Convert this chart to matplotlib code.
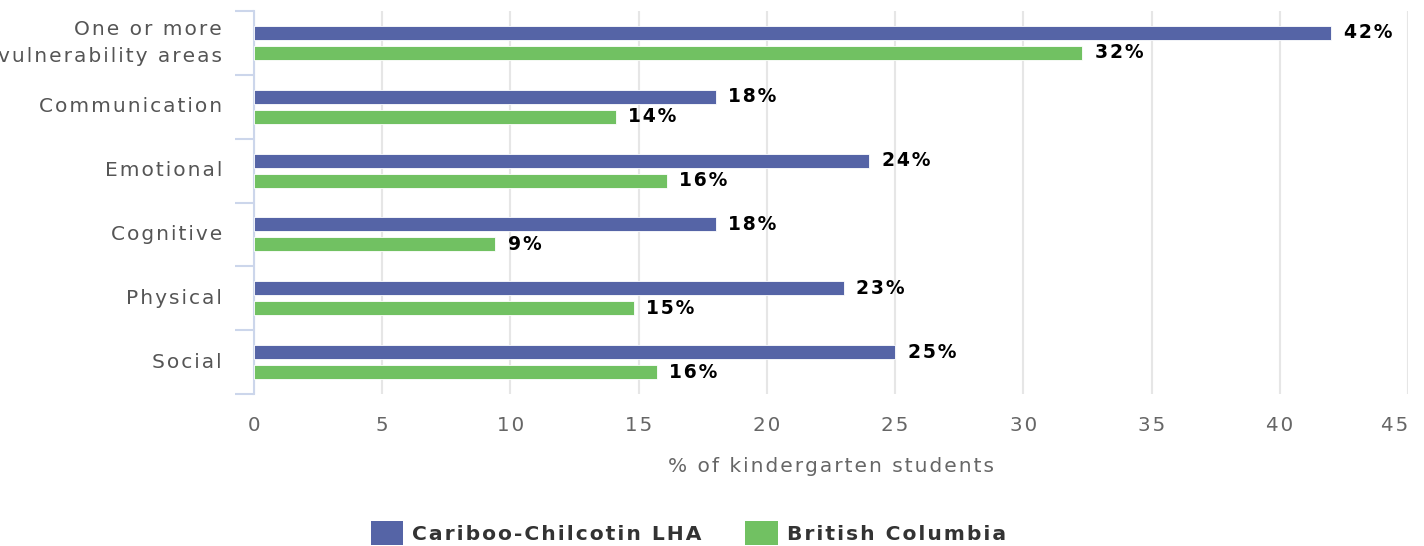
import matplotlib
matplotlib.use("Agg")
import matplotlib.pyplot as plt
import numpy as np
from matplotlib.patches import Patch

# ---- data ----
categories = ["One or more\nvulnerability areas", "Communication", "Emotional",
              "Cognitive", "Physical", "Social"]
cariboo = [42.0, 18.0, 24.0, 18.0, 23.0, 25.0]
british_columbia = [32.3, 14.1, 16.1, 9.4, 14.8, 15.7]
series_names = ["Cariboo-Chilcotin LHA", "British Columbia"]
x_ticks = [0, 5, 10, 15, 20, 25, 30, 35, 40, 45]
x_label = "% of kindergarten students"

BLUE = "#5564A6"
GREEN = "#71C162"
HS = "\u200a"  # hair space to mimic letter spacing


def spaced(s):
    return "\n".join(HS.join(line) for line in s.split("\n"))


plt.rcParams["font.family"] = ["DejaVu Sans"]

fig = plt.figure(figsize=(14.24, 5.46), dpi=100)
ax = fig.add_axes([0.17837, 0.27839, 0.81039, 0.70146])

y = np.arange(len(categories))
h = 0.22
off = 0.157
b1 = ax.barh(y - off, cariboo, height=h, color=BLUE, edgecolor="white", linewidth=0.6, zorder=3)
b2 = ax.barh(y + off, british_columbia, height=h, color=GREEN, edgecolor="white", linewidth=0.6, zorder=3)

ax.bar_label(b1, labels=[spaced(f"{round(v)}%") for v in cariboo], padding=9,
             fontsize=13.5, fontweight="bold", color="black")
ax.bar_label(b2, labels=[spaced(f"{round(v)}%") for v in british_columbia], padding=9,
             fontsize=13.5, fontweight="bold", color="black")

ax.set_xlim(0, 45)
ax.set_ylim(len(categories) - 0.5, -0.5)

ax.set_xticks(x_ticks)
ax.set_xticklabels([spaced(str(t)) for t in x_ticks])
ax.tick_params(axis="x", length=0, pad=16, labelsize=14.3, labelcolor="#666666")
ax.get_xticklabels()[-1].set_ha("right")

ax.set_yticks(y)
ax.set_yticklabels([spaced(c) for c in categories], linespacing=1.5)
ax.tick_params(axis="y", which="major", length=0, pad=23, labelsize=14.5, labelcolor="#555555")
for lbl in ax.get_yticklabels():
    lbl.set_va("center")
ax.set_yticks(np.arange(-0.5, len(categories), 1), minor=True)
ax.tick_params(axis="y", which="minor", length=14, width=1.5, color="#ccd6eb")

for s in ["top", "right", "bottom"]:
    ax.spines[s].set_visible(False)
ax.spines["left"].set_color("#ccd6eb")
ax.spines["left"].set_linewidth(1.5)

ax.grid(axis="x", color="#e6e6e6", linewidth=1.5, zorder=0)
ax.grid(axis="y", visible=False)
ax.set_axisbelow(True)

ax.set_xlabel(spaced(x_label), fontsize=14.5, color="#666666")
ax.xaxis.set_label_coords(0.5, -0.188)
ax.xaxis.label.set_va("center")

handles = [Patch(facecolor=BLUE, edgecolor="none"), Patch(facecolor=GREEN, edgecolor="none")]
fig.legend(handles, [spaced(n) for n in series_names], loc="center",
           bbox_to_anchor=(0.4835, 1 - 533 / 546), ncol=2, frameon=False,
           prop={"weight": "bold", "size": 14.6}, labelcolor="#333333",
           handlelength=1.6, handleheight=1.38, handletextpad=0.45,
           columnspacing=2.15, borderpad=0, borderaxespad=0)

fig.savefig("out.png", dpi=100)
